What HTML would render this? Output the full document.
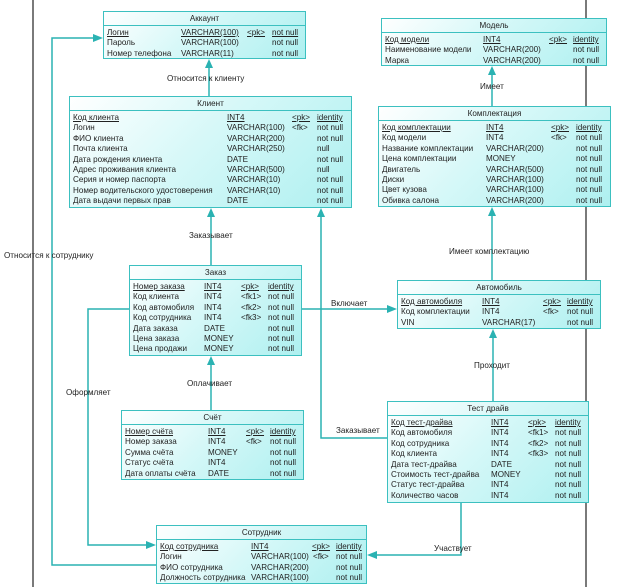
<!DOCTYPE html>
<html><head><meta charset="utf-8"><style>
body{margin:0;width:624px;height:587px;background:#fff;position:relative;overflow:hidden;font-family:"Liberation Sans",sans-serif;font-size:8.1px;color:#222}
.t{position:absolute;border:1.3px solid #3cc0c0;box-sizing:border-box;background:linear-gradient(135deg,#ffffff 0%,#d6f8f8 45%,#aef0f0 100%)}
.h{height:13px;line-height:13px;text-align:center;border-bottom:1.3px solid #3cc0c0}
.r{position:relative;height:10.4px;line-height:10.4px;white-space:nowrap}
.r span{position:absolute;top:0}
.u span{text-decoration:underline}
.b{padding-top:2px}
.l{position:absolute;white-space:nowrap;line-height:10px}
</style></head><body>
<svg width="624" height="587" style="position:absolute;left:0;top:0">
<g stroke="#222" stroke-width="1.2"><line x1="33" y1="0" x2="33" y2="587"/><line x1="586" y1="0" x2="586" y2="587"/></g>
<g stroke="#2ab2b2" stroke-width="1.5" fill="none">
<line x1="209" y1="96" x2="209" y2="62"/>
<polyline points="156,565 52,565 52,38 97,38"/>
<line x1="211" y1="265" x2="211" y2="211"/>
<polyline points="387,438 321,438 321,211"/>
<line x1="302" y1="309" x2="391" y2="309"/>
<polyline points="129,309 88,309 88,545 150,545"/>
<line x1="211" y1="410" x2="211" y2="359"/>
<line x1="493" y1="401" x2="493" y2="332"/>
<polyline points="461,503 461,555 373,555"/>
<line x1="492" y1="106" x2="492" y2="69"/>
<line x1="492" y1="280" x2="492" y2="210"/>
</g>
<g fill="#2ab2b2">
<polygon points="209,59 205,68 213,68"/>
<polygon points="103,38 93,34 93,42"/>
<polygon points="211,208 207,217 215,217"/>
<polygon points="321,208 317,217 325,217"/>
<polygon points="397,309 387,305 387,313"/>
<polygon points="156,545 146,541 146,549"/>
<polygon points="211,356 207,365 215,365"/>
<polygon points="493,329 489,338 497,338"/>
<polygon points="367,555 377,551 377,559"/>
<polygon points="492,66 488,75 496,75"/>
<polygon points="492,207 488,216 496,216"/>
</g>
</svg>
<div class="l" style="left:167px;top:74px">Относится к клиенту</div>
<div class="l" style="left:4px;top:251px">Относится к сотруднику</div>
<div class="l" style="left:189px;top:231px">Заказывает</div>
<div class="l" style="left:336px;top:426px">Заказывает</div>
<div class="l" style="left:331px;top:299px">Включает</div>
<div class="l" style="left:66px;top:388px">Оформляет</div>
<div class="l" style="left:187px;top:379px">Оплачивает</div>
<div class="l" style="left:474px;top:361px">Проходит</div>
<div class="l" style="left:434px;top:544px">Участвует</div>
<div class="l" style="left:480px;top:82px">Имеет</div>
<div class="l" style="left:449px;top:247px">Имеет комплектацию</div>

<div class="t" style="left:103px;top:11px;width:203px;height:48px"><div class="h">Аккаунт</div><div class="b">
<div class="r u"><span style="left:3px">Логин</span><span style="left:77px">VARCHAR(100)</span><span style="left:143px">&lt;pk&gt;</span><span style="left:168px">not null</span></div>
<div class="r"><span style="left:3px">Пароль</span><span style="left:77px">VARCHAR(100)</span><span style="left:168px">not null</span></div>
<div class="r"><span style="left:3px">Номер телефона</span><span style="left:77px">VARCHAR(11)</span><span style="left:168px">not null</span></div>
</div></div>

<div class="t" style="left:69px;top:96px;width:283px;height:112px"><div class="h">Клиент</div><div class="b">
<div class="r u"><span style="left:3px">Код клиента</span><span style="left:157px">INT4</span><span style="left:222px">&lt;pk&gt;</span><span style="left:247px">identity</span></div>
<div class="r"><span style="left:3px">Логин</span><span style="left:157px">VARCHAR(100)</span><span style="left:222px">&lt;fk&gt;</span><span style="left:247px">not null</span></div>
<div class="r"><span style="left:3px">ФИО клиента</span><span style="left:157px">VARCHAR(200)</span><span style="left:247px">not null</span></div>
<div class="r"><span style="left:3px">Почта клиента</span><span style="left:157px">VARCHAR(250)</span><span style="left:247px">null</span></div>
<div class="r"><span style="left:3px">Дата рождения клиента</span><span style="left:157px">DATE</span><span style="left:247px">not null</span></div>
<div class="r"><span style="left:3px">Адрес проживания клиента</span><span style="left:157px">VARCHAR(500)</span><span style="left:247px">null</span></div>
<div class="r"><span style="left:3px">Серия и номер паспорта</span><span style="left:157px">VARCHAR(10)</span><span style="left:247px">not null</span></div>
<div class="r"><span style="left:3px">Номер водительского удостоверения</span><span style="left:157px">VARCHAR(10)</span><span style="left:247px">not null</span></div>
<div class="r"><span style="left:3px">Дата выдачи первых прав</span><span style="left:157px">DATE</span><span style="left:247px">not null</span></div>
</div></div>

<div class="t" style="left:381px;top:18px;width:226px;height:48px"><div class="h">Модель</div><div class="b">
<div class="r u"><span style="left:3px">Код модели</span><span style="left:101px">INT4</span><span style="left:167px">&lt;pk&gt;</span><span style="left:191px">identity</span></div>
<div class="r"><span style="left:3px">Наименование модели</span><span style="left:101px">VARCHAR(200)</span><span style="left:191px">not null</span></div>
<div class="r"><span style="left:3px">Марка</span><span style="left:101px">VARCHAR(200)</span><span style="left:191px">not null</span></div>
</div></div>

<div class="t" style="left:378px;top:106px;width:233px;height:101px"><div class="h">Комплектация</div><div class="b">
<div class="r u"><span style="left:3px">Код комплектации</span><span style="left:107px">INT4</span><span style="left:172px">&lt;pk&gt;</span><span style="left:197px">identity</span></div>
<div class="r"><span style="left:3px">Код модели</span><span style="left:107px">INT4</span><span style="left:172px">&lt;fk&gt;</span><span style="left:197px">not null</span></div>
<div class="r"><span style="left:3px">Название комплектации</span><span style="left:107px">VARCHAR(200)</span><span style="left:197px">not null</span></div>
<div class="r"><span style="left:3px">Цена комплектации</span><span style="left:107px">MONEY</span><span style="left:197px">not null</span></div>
<div class="r"><span style="left:3px">Двигатель</span><span style="left:107px">VARCHAR(500)</span><span style="left:197px">not null</span></div>
<div class="r"><span style="left:3px">Диски</span><span style="left:107px">VARCHAR(100)</span><span style="left:197px">not null</span></div>
<div class="r"><span style="left:3px">Цвет кузова</span><span style="left:107px">VARCHAR(100)</span><span style="left:197px">not null</span></div>
<div class="r"><span style="left:3px">Обивка салона</span><span style="left:107px">VARCHAR(200)</span><span style="left:197px">not null</span></div>
</div></div>

<div class="t" style="left:129px;top:265px;width:173px;height:91px"><div class="h">Заказ</div><div class="b">
<div class="r u"><span style="left:3px">Номер заказа</span><span style="left:74px">INT4</span><span style="left:111px">&lt;pk&gt;</span><span style="left:138px">identity</span></div>
<div class="r"><span style="left:3px">Код клиента</span><span style="left:74px">INT4</span><span style="left:111px">&lt;fk1&gt;</span><span style="left:138px">not null</span></div>
<div class="r"><span style="left:3px">Код автомобиля</span><span style="left:74px">INT4</span><span style="left:111px">&lt;fk2&gt;</span><span style="left:138px">not null</span></div>
<div class="r"><span style="left:3px">Код сотрудника</span><span style="left:74px">INT4</span><span style="left:111px">&lt;fk3&gt;</span><span style="left:138px">not null</span></div>
<div class="r"><span style="left:3px">Дата заказа</span><span style="left:74px">DATE</span><span style="left:138px">not null</span></div>
<div class="r"><span style="left:3px">Цена заказа</span><span style="left:74px">MONEY</span><span style="left:138px">not null</span></div>
<div class="r"><span style="left:3px">Цена продажи</span><span style="left:74px">MONEY</span><span style="left:138px">not null</span></div>
</div></div>

<div class="t" style="left:397px;top:280px;width:204px;height:49px"><div class="h">Автомобиль</div><div class="b">
<div class="r u"><span style="left:3px">Код автомобиля</span><span style="left:84px">INT4</span><span style="left:145px">&lt;pk&gt;</span><span style="left:169px">identity</span></div>
<div class="r"><span style="left:3px">Код комплектации</span><span style="left:84px">INT4</span><span style="left:145px">&lt;fk&gt;</span><span style="left:169px">not null</span></div>
<div class="r"><span style="left:3px">VIN</span><span style="left:84px">VARCHAR(17)</span><span style="left:169px">not null</span></div>
</div></div>

<div class="t" style="left:121px;top:410px;width:183px;height:70px"><div class="h">Счёт</div><div class="b">
<div class="r u"><span style="left:3px">Номер счёта</span><span style="left:86px">INT4</span><span style="left:124px">&lt;pk&gt;</span><span style="left:148px">identity</span></div>
<div class="r"><span style="left:3px">Номер заказа</span><span style="left:86px">INT4</span><span style="left:124px">&lt;fk&gt;</span><span style="left:148px">not null</span></div>
<div class="r"><span style="left:3px">Сумма счёта</span><span style="left:86px">MONEY</span><span style="left:148px">not null</span></div>
<div class="r"><span style="left:3px">Статус счёта</span><span style="left:86px">INT4</span><span style="left:148px">not null</span></div>
<div class="r"><span style="left:3px">Дата оплаты счёта</span><span style="left:86px">DATE</span><span style="left:148px">not null</span></div>
</div></div>

<div class="t" style="left:387px;top:401px;width:202px;height:102px"><div class="h">Тест драйв</div><div class="b">
<div class="r u"><span style="left:3px">Код тест-драйва</span><span style="left:103px">INT4</span><span style="left:140px">&lt;pk&gt;</span><span style="left:167px">identity</span></div>
<div class="r"><span style="left:3px">Код автомобиля</span><span style="left:103px">INT4</span><span style="left:140px">&lt;fk1&gt;</span><span style="left:167px">not null</span></div>
<div class="r"><span style="left:3px">Код сотрудника</span><span style="left:103px">INT4</span><span style="left:140px">&lt;fk2&gt;</span><span style="left:167px">not null</span></div>
<div class="r"><span style="left:3px">Код клиента</span><span style="left:103px">INT4</span><span style="left:140px">&lt;fk3&gt;</span><span style="left:167px">not null</span></div>
<div class="r"><span style="left:3px">Дата тест-драйва</span><span style="left:103px">DATE</span><span style="left:167px">not null</span></div>
<div class="r"><span style="left:3px">Стоимость тест-драйва</span><span style="left:103px">MONEY</span><span style="left:167px">not null</span></div>
<div class="r"><span style="left:3px">Статус тест-драйва</span><span style="left:103px">INT4</span><span style="left:167px">not null</span></div>
<div class="r"><span style="left:3px">Количество часов</span><span style="left:103px">INT4</span><span style="left:167px">not null</span></div>
</div></div>

<div class="t" style="left:156px;top:525px;width:211px;height:59px"><div class="h">Сотрудник</div><div class="b">
<div class="r u"><span style="left:3px">Код сотрудника</span><span style="left:94px">INT4</span><span style="left:155px">&lt;pk&gt;</span><span style="left:179px">identity</span></div>
<div class="r"><span style="left:3px">Логин</span><span style="left:94px">VARCHAR(100)</span><span style="left:156px">&lt;fk&gt;</span><span style="left:179px">not null</span></div>
<div class="r"><span style="left:3px">ФИО сотрудника</span><span style="left:94px">VARCHAR(200)</span><span style="left:179px">not null</span></div>
<div class="r"><span style="left:3px">Должность сотрудника</span><span style="left:94px">VARCHAR(100)</span><span style="left:179px">not null</span></div>
</div></div>
</body></html>
